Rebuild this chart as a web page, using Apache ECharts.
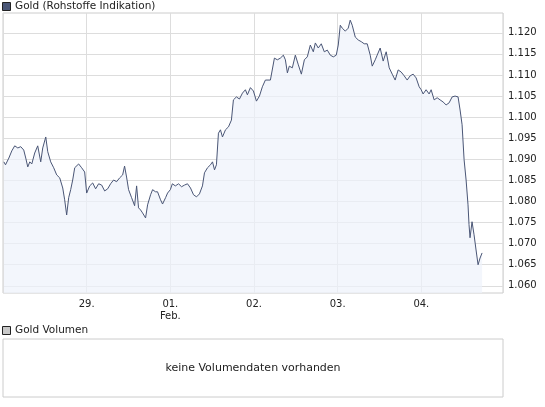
<!DOCTYPE html>
<html>
<head>
<meta charset="utf-8">
<script src="https://cdn.jsdelivr.net/npm/echarts@6/dist/echarts.min.js"></script>
<style>html,body{margin:0;padding:0;background:#fff}#chart{width:545px;height:407px}</style>
</head>
<body>
<div id="chart"></div>
<script>
// time in days since 28. 00:00, price values
const days = [0.01,0.03,0.07,0.105,0.14,0.177,0.212,0.248,0.272,0.296,0.32,0.344,0.379,0.415,0.451,0.475,0.511,0.535,0.57,0.606,0.642,0.678,0.714,0.737,0.761,0.785,0.809,0.833,0.857,0.88,0.904,0.94,0.976,1.0,1.036,1.072,1.107,1.143,1.179,1.215,1.251,1.286,1.322,1.358,1.394,1.43,1.453,1.477,1.501,1.537,1.573,1.597,1.62,1.644,1.668,1.704,1.728,1.764,1.788,1.823,1.847,1.883,1.907,1.943,1.967,2.0,2.024,2.06,2.098,2.134,2.17,2.205,2.241,2.277,2.313,2.348,2.384,2.408,2.444,2.48,2.504,2.528,2.551,2.575,2.599,2.623,2.659,2.695,2.73,2.754,2.79,2.826,2.862,2.897,2.921,2.957,2.993,3.029,3.065,3.1,3.136,3.196,3.244,3.279,3.315,3.351,3.375,3.399,3.422,3.458,3.494,3.53,3.566,3.602,3.637,3.673,3.709,3.733,3.768,3.804,3.84,3.876,3.912,3.948,3.983,4.007,4.031,4.055,4.091,4.126,4.15,4.174,4.21,4.246,4.282,4.317,4.353,4.389,4.413,4.449,4.472,4.508,4.544,4.58,4.616,4.652,4.687,4.723,4.759,4.795,4.831,4.866,4.902,4.938,4.974,4.998,5.021,5.057,5.093,5.117,5.153,5.189,5.224,5.26,5.296,5.332,5.368,5.403,5.439,5.463,5.487,5.511,5.535,5.558,5.57,5.582,5.606,5.63,5.654,5.678,5.702,5.726];
const prices = [1.0894,1.0887,1.0903,1.0920,1.0932,1.0927,1.0930,1.0922,1.0903,1.0882,1.0894,1.0889,1.0915,1.0932,1.0894,1.0927,1.0953,1.0918,1.0894,1.0880,1.0863,1.0856,1.0832,1.0804,1.0768,1.0809,1.0828,1.0851,1.0880,1.0884,1.0889,1.0880,1.0870,1.0820,1.0837,1.0844,1.0830,1.0842,1.0839,1.0825,1.0830,1.0842,1.0851,1.0847,1.0856,1.0863,1.0884,1.0858,1.0828,1.0809,1.0790,1.0837,1.0785,1.0780,1.0773,1.0761,1.0792,1.0816,1.0828,1.0823,1.0823,1.0804,1.0794,1.0809,1.0820,1.0828,1.0842,1.0837,1.0842,1.0835,1.0839,1.0842,1.0832,1.0816,1.0811,1.0818,1.0837,1.0868,1.0880,1.0887,1.0894,1.0875,1.0887,1.0962,1.0970,1.0953,1.0970,1.0977,1.0993,1.1041,1.1048,1.1043,1.1057,1.1065,1.1053,1.1070,1.1062,1.1038,1.1050,1.1072,1.1088,1.1088,1.1140,1.1136,1.1140,1.1147,1.1136,1.1105,1.1121,1.1117,1.1147,1.1124,1.1102,1.1136,1.1143,1.1171,1.1155,1.1176,1.1164,1.1174,1.1155,1.1159,1.1147,1.1143,1.1147,1.1171,1.1218,1.1211,1.1204,1.1211,1.1230,1.1218,1.1190,1.1183,1.1179,1.1174,1.1174,1.1147,1.1121,1.1136,1.1147,1.1164,1.1133,1.1155,1.1117,1.1102,1.1088,1.1112,1.1107,1.1098,1.1088,1.1098,1.1102,1.1093,1.1072,1.1065,1.1055,1.1065,1.1055,1.1065,1.1041,1.1046,1.1041,1.1036,1.1029,1.1034,1.1048,1.1050,1.1048,1.1017,1.0982,1.0899,1.0851,1.0792,1.0745,1.0714,1.0752,1.0721,1.0685,1.0650,1.0666,1.0678];
const dayLabels = ['', '29.', '01.\nFeb.', '02.', '03.', '04.'];
const yTicks = [1.060,1.065,1.070,1.075,1.080,1.085,1.090,1.095,1.100,1.105,1.110,1.115,1.120];

const chart = echarts.init(document.getElementById('chart'));
const font = 'DejaVu Sans';
chart.setOption({
  animation: false,
  grid: [
    {left: 3, top: 13, width: 500, height: 280, show: true, borderColor: '#cccccc', backgroundColor: '#fff'},
    {left: 3, top: 339, width: 500, height: 58, show: true, borderColor: '#cccccc'}
  ],
  xAxis: [
    {type: 'value', gridIndex: 0, min: 0, max: 5.976, interval: 1,
      axisLine: {show: false}, axisTick: {show: false},
      splitLine: {lineStyle: {color: '#dddddd'}},
      axisLabel: {fontFamily: font, fontSize: 10, color: '#222', margin: 5, lineHeight: 12,
        formatter: v => dayLabels[Math.round(v)] || ''}},
    {type: 'value', gridIndex: 1, show: false, min: 0, max: 1}
  ],
  yAxis: [
    {type: 'value', gridIndex: 0, position: 'right', min: 1.0583, max: 1.1247,
      axisLine: {show: false},
      axisTick: {show: false, customValues: yTicks},
      splitLine: {show: true, lineStyle: {color: '#dddddd'}},
      axisLabel: {customValues: yTicks, fontFamily: font, fontSize: 10, color: '#222', margin: 5,
        formatter: v => v.toFixed(3)}},
    {type: 'value', gridIndex: 1, show: false, min: 0, max: 1}
  ],
  series: [{
    type: 'line', xAxisIndex: 0, yAxisIndex: 0, symbol: 'none',
    data: days.map((d, i) => [d, prices[i]]),
    lineStyle: {color: '#4a5676', width: 1},
    areaStyle: {color: '#eef2fb', origin: 'start'}
  }],
  graphic: [
    {type: 'rect', shape: {x: 2.5, y: 2.5, width: 8, height: 8}, style: {fill: '#4a5676', stroke: '#222'}},
    {type: 'text', x: 15, y: 1, style: {text: 'Gold (Rohstoffe Indikation)', fontFamily: font, fontSize: 10.5, fill: '#222'}},
    {type: 'rect', shape: {x: 2.5, y: 326.5, width: 8, height: 8}, style: {fill: '#c8c8c8', stroke: '#222'}},
    {type: 'text', x: 15, y: 325, style: {text: 'Gold Volumen', fontFamily: font, fontSize: 10.5, fill: '#222'}},
    {type: 'text', x: 253, y: 368, style: {text: 'keine Volumendaten vorhanden', fontFamily: font, fontSize: 11, fill: '#222', align: 'center', verticalAlign: 'middle'}}
  ]
});
</script>
</body>
</html>
